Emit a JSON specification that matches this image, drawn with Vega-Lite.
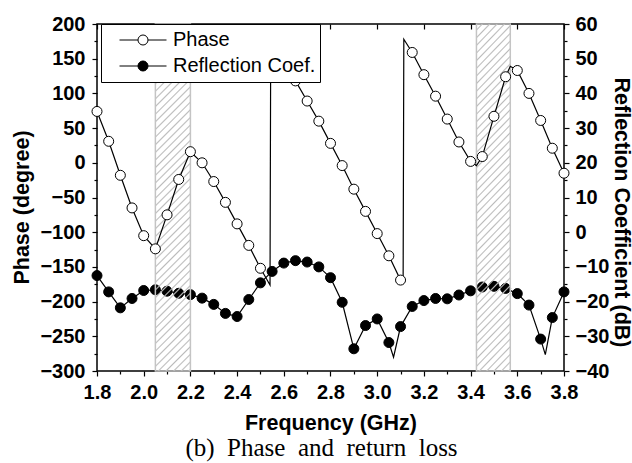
{
  "$schema": "https://vega.github.io/schema/vega-lite/v6.json",
  "width": 467,
  "height": 347,
  "autosize": {"type": "none"},
  "padding": {"left": 97, "top": 24, "right": 68, "bottom": 92},
  "background": "white",
  "title": {"text": "(b)\u00a0 Phase\u00a0 and\u00a0 return\u00a0 loss", "orient": "bottom", "anchor": "middle", "frame": "group", "dx": -9, "font": "Liberation Serif", "fontSize": 25, "fontWeight": "normal", "color": "black", "offset": 2},
  "datasets": {
    "phaseMarks": [
      {"f": 1.80, "v": 74, "series": "Phase"}, {"f": 1.85, "v": 31, "series": "Phase"}, {"f": 1.90, "v": -18, "series": "Phase"},
      {"f": 1.95, "v": -65, "series": "Phase"}, {"f": 2.00, "v": -105, "series": "Phase"}, {"f": 2.05, "v": -124, "series": "Phase"},
      {"f": 2.10, "v": -75, "series": "Phase"}, {"f": 2.15, "v": -24, "series": "Phase"}, {"f": 2.20, "v": 16, "series": "Phase"},
      {"f": 2.25, "v": 0, "series": "Phase"}, {"f": 2.30, "v": -27, "series": "Phase"}, {"f": 2.35, "v": -57, "series": "Phase"},
      {"f": 2.40, "v": -88, "series": "Phase"}, {"f": 2.45, "v": -119, "series": "Phase"}, {"f": 2.50, "v": -152, "series": "Phase"},
      {"f": 2.55, "v": 176, "series": "Phase"}, {"f": 2.60, "v": 147, "series": "Phase"}, {"f": 2.65, "v": 118, "series": "Phase"},
      {"f": 2.70, "v": 89, "series": "Phase"}, {"f": 2.75, "v": 60, "series": "Phase"}, {"f": 2.80, "v": 28, "series": "Phase"},
      {"f": 2.85, "v": -4, "series": "Phase"}, {"f": 2.90, "v": -38, "series": "Phase"}, {"f": 2.95, "v": -70, "series": "Phase"},
      {"f": 3.00, "v": -102, "series": "Phase"}, {"f": 3.05, "v": -134, "series": "Phase"}, {"f": 3.10, "v": -169, "series": "Phase"},
      {"f": 3.15, "v": 159, "series": "Phase"}, {"f": 3.20, "v": 127, "series": "Phase"}, {"f": 3.25, "v": 96, "series": "Phase"},
      {"f": 3.30, "v": 63, "series": "Phase"}, {"f": 3.35, "v": 30, "series": "Phase"}, {"f": 3.40, "v": 2, "series": "Phase"},
      {"f": 3.45, "v": 9, "series": "Phase"}, {"f": 3.50, "v": 67, "series": "Phase"}, {"f": 3.55, "v": 124, "series": "Phase"},
      {"f": 3.60, "v": 133, "series": "Phase"}, {"f": 3.65, "v": 100, "series": "Phase"}, {"f": 3.70, "v": 61, "series": "Phase"},
      {"f": 3.75, "v": 21, "series": "Phase"}, {"f": 3.80, "v": -15, "series": "Phase"}
    ],
    "phaseLine": [
      {"f": 1.80, "v": 74}, {"f": 1.85, "v": 31}, {"f": 1.90, "v": -18}, {"f": 1.95, "v": -65}, {"f": 2.00, "v": -105},
      {"f": 2.05, "v": -124}, {"f": 2.10, "v": -75}, {"f": 2.15, "v": -24}, {"f": 2.20, "v": 16}, {"f": 2.25, "v": 0},
      {"f": 2.30, "v": -27}, {"f": 2.35, "v": -57}, {"f": 2.40, "v": -88}, {"f": 2.45, "v": -119}, {"f": 2.50, "v": -152},
      {"f": 2.541, "v": -176}, {"f": 2.544, "v": 180}, {"f": 2.55, "v": 176}, {"f": 2.60, "v": 147}, {"f": 2.65, "v": 118},
      {"f": 2.70, "v": 89}, {"f": 2.75, "v": 60}, {"f": 2.80, "v": 28}, {"f": 2.85, "v": -4}, {"f": 2.90, "v": -38},
      {"f": 2.95, "v": -70}, {"f": 3.00, "v": -102}, {"f": 3.05, "v": -134}, {"f": 3.10, "v": -169}, {"f": 3.111, "v": -173},
      {"f": 3.114, "v": 178}, {"f": 3.15, "v": 159}, {"f": 3.20, "v": 127}, {"f": 3.25, "v": 96}, {"f": 3.30, "v": 63},
      {"f": 3.35, "v": 30}, {"f": 3.40, "v": 2}, {"f": 3.425, "v": -4}, {"f": 3.45, "v": 9}, {"f": 3.50, "v": 67},
      {"f": 3.55, "v": 124}, {"f": 3.57, "v": 139}, {"f": 3.60, "v": 133}, {"f": 3.65, "v": 100}, {"f": 3.70, "v": 61},
      {"f": 3.75, "v": 21}, {"f": 3.80, "v": -15}
    ],
    "reflMarks": [
      {"f": 1.80, "v": -12.5, "series": "Reflection Coef."}, {"f": 1.85, "v": -17.2, "series": "Reflection Coef."},
      {"f": 1.90, "v": -21.8, "series": "Reflection Coef."}, {"f": 1.95, "v": -19.1, "series": "Reflection Coef."},
      {"f": 2.00, "v": -16.8, "series": "Reflection Coef."}, {"f": 2.05, "v": -16.6, "series": "Reflection Coef."},
      {"f": 2.10, "v": -17.0, "series": "Reflection Coef."}, {"f": 2.15, "v": -17.6, "series": "Reflection Coef."},
      {"f": 2.20, "v": -18.0, "series": "Reflection Coef."}, {"f": 2.25, "v": -19.0, "series": "Reflection Coef."},
      {"f": 2.30, "v": -20.8, "series": "Reflection Coef."}, {"f": 2.35, "v": -23.4, "series": "Reflection Coef."},
      {"f": 2.40, "v": -24.3, "series": "Reflection Coef."}, {"f": 2.45, "v": -19.4, "series": "Reflection Coef."},
      {"f": 2.50, "v": -14.6, "series": "Reflection Coef."}, {"f": 2.55, "v": -11.3, "series": "Reflection Coef."},
      {"f": 2.60, "v": -8.9, "series": "Reflection Coef."}, {"f": 2.65, "v": -8.2, "series": "Reflection Coef."},
      {"f": 2.70, "v": -8.6, "series": "Reflection Coef."}, {"f": 2.75, "v": -10.0, "series": "Reflection Coef."},
      {"f": 2.80, "v": -13.1, "series": "Reflection Coef."}, {"f": 2.85, "v": -20.2, "series": "Reflection Coef."},
      {"f": 2.90, "v": -33.6, "series": "Reflection Coef."}, {"f": 2.95, "v": -26.9, "series": "Reflection Coef."},
      {"f": 3.00, "v": -25.0, "series": "Reflection Coef."}, {"f": 3.05, "v": -31.8, "series": "Reflection Coef."},
      {"f": 3.10, "v": -27.2, "series": "Reflection Coef."}, {"f": 3.15, "v": -21.4, "series": "Reflection Coef."},
      {"f": 3.20, "v": -19.7, "series": "Reflection Coef."}, {"f": 3.25, "v": -19.1, "series": "Reflection Coef."},
      {"f": 3.30, "v": -19.2, "series": "Reflection Coef."}, {"f": 3.35, "v": -18.1, "series": "Reflection Coef."},
      {"f": 3.40, "v": -16.9, "series": "Reflection Coef."}, {"f": 3.45, "v": -15.8, "series": "Reflection Coef."},
      {"f": 3.50, "v": -15.6, "series": "Reflection Coef."}, {"f": 3.55, "v": -16.2, "series": "Reflection Coef."},
      {"f": 3.60, "v": -17.7, "series": "Reflection Coef."}, {"f": 3.65, "v": -21.0, "series": "Reflection Coef."},
      {"f": 3.70, "v": -30.8, "series": "Reflection Coef."}, {"f": 3.75, "v": -24.6, "series": "Reflection Coef."},
      {"f": 3.80, "v": -17.2, "series": "Reflection Coef."}
    ],
    "reflLine": [
      {"f": 1.80, "v": -12.5}, {"f": 1.85, "v": -17.2}, {"f": 1.90, "v": -21.8}, {"f": 1.95, "v": -19.1}, {"f": 2.00, "v": -16.8},
      {"f": 2.05, "v": -16.6}, {"f": 2.10, "v": -17.0}, {"f": 2.15, "v": -17.6}, {"f": 2.20, "v": -18.0}, {"f": 2.25, "v": -19.0},
      {"f": 2.30, "v": -20.8}, {"f": 2.35, "v": -23.4}, {"f": 2.40, "v": -24.3}, {"f": 2.45, "v": -19.4}, {"f": 2.50, "v": -14.6},
      {"f": 2.55, "v": -11.3}, {"f": 2.60, "v": -8.9}, {"f": 2.65, "v": -8.2}, {"f": 2.70, "v": -8.6}, {"f": 2.75, "v": -10.0},
      {"f": 2.80, "v": -13.1}, {"f": 2.85, "v": -20.2}, {"f": 2.90, "v": -33.6}, {"f": 2.95, "v": -26.9}, {"f": 3.00, "v": -25.0},
      {"f": 3.05, "v": -31.8}, {"f": 3.07, "v": -36.0}, {"f": 3.10, "v": -27.2}, {"f": 3.15, "v": -21.4}, {"f": 3.20, "v": -19.7},
      {"f": 3.25, "v": -19.1}, {"f": 3.30, "v": -19.2}, {"f": 3.35, "v": -18.1}, {"f": 3.40, "v": -16.9}, {"f": 3.45, "v": -15.8},
      {"f": 3.50, "v": -15.6}, {"f": 3.55, "v": -16.2}, {"f": 3.60, "v": -17.7}, {"f": 3.65, "v": -21.0}, {"f": 3.70, "v": -30.8},
      {"f": 3.72, "v": -35.3}, {"f": 3.75, "v": -24.6}, {"f": 3.80, "v": -17.2}
    ],
    "bands": [
      {"start": 2.05, "end": 2.2},
      {"start": 3.425, "end": 3.57}
    ]
  },
  "layer": [
    {
      "data": {"name": "reflLine"},
      "mark": {"type": "line", "color": "black", "strokeWidth": 1.2},
      "encoding": {
        "x": {"field": "f", "type": "quantitative", "scale": {"domain": [1.8, 3.8], "nice": false, "zero": false},
          "axis": {"orient": "bottom", "values": [1.8, 2.0, 2.2, 2.4, 2.6, 2.8, 3.0, 3.2, 3.4, 3.6, 3.8], "format": ".1f", "title": "Frequency (GHz)", "labelPadding": 6, "titlePadding": 10, "labelFontWeight": "bold"}},
        "y": {"field": "v", "type": "quantitative", "scale": {"domain": [-40, 60], "nice": false, "zero": false},
          "axis": {"orient": "right", "values": [-40, -30, -20, -10, 0, 10, 20, 30, 40, 50, 60], "title": "Reflection Coefficient (dB)", "titleFontSize": 21.5, "labelPadding": 6, "titleX": 45, "titleY": 188, "titleBaseline": "bottom", "labelFontWeight": "bold"}}
      }
    },
    {
      "data": {"name": "reflMarks"},
      "mark": {"type": "point", "filled": true, "stroke": "black", "strokeWidth": 1, "size": 100, "opacity": 1},
      "encoding": {
        "x": {"field": "f", "type": "quantitative", "scale": {"domain": [1.8, 3.8], "nice": false, "zero": false},
          "axis": {"orient": "bottom", "values": [1.9, 2.1, 2.3, 2.5, 2.7, 2.9, 3.1, 3.3, 3.5, 3.7], "labels": false, "tickSize": 3, "title": null}},
        "y": {"field": "v", "type": "quantitative", "scale": {"domain": [-40, 60], "nice": false, "zero": false},
          "axis": {"orient": "right", "values": [-35, -25, -15, -5, 5, 15, 25, 35, 45, 55], "labels": false, "tickSize": 3, "title": null}},
        "fill": {"field": "series", "type": "nominal",
          "scale": {"domain": ["Phase", "Reflection Coef."], "range": ["white", "black"]},
          "legend": {"orient": "none", "legendX": 4, "legendY": 0, "title": null, "direction": "vertical",
            "symbolType": "M-1,0H-0.213M0.213,0H1M0.213,0A0.213,0.213,0,1,1,-0.213,0A0.213,0.213,0,1,1,0.213,0Z",
            "symbolSize": 2209, "symbolStrokeColor": "black", "symbolStrokeWidth": 1, "symbolOpacity": 1,
            "clipHeight": 24, "rowPadding": 2, "padding": 4, "symbolOffset": 14, "labelOffset": 6,
            "labelFont": "Liberation Sans", "labelFontSize": 20, "labelColor": "black", "labelLimit": 400,
            "strokeColor": "black", "fillColor": "white"}}
      }
    },
    {
      "data": {"name": "bands"},
      "mark": {"type": "rect", "stroke": "#c4c4c4", "strokeWidth": 1.5,
        "fill": {"gradient": "linear", "x1": 0, "y1": 0, "x2": 0.11, "y2": 1.09, "stops": [
          {"offset": 0, "color": "#bbb0"}, {"offset": 0.012, "color": "#bbb0"}, {"offset": 0.016, "color": "#bbb"},
          {"offset": 0.02, "color": "#bbb0"}, {"offset": 0.032, "color": "#bbb0"}, {"offset": 0.036, "color": "#bbb"},
          {"offset": 0.04, "color": "#bbb0"}, {"offset": 0.052, "color": "#bbb0"}, {"offset": 0.056, "color": "#bbb"},
          {"offset": 0.06, "color": "#bbb0"}, {"offset": 0.072, "color": "#bbb0"}, {"offset": 0.076, "color": "#bbb"},
          {"offset": 0.08, "color": "#bbb0"}, {"offset": 0.092, "color": "#bbb0"}, {"offset": 0.096, "color": "#bbb"},
          {"offset": 0.1, "color": "#bbb0"}, {"offset": 0.112, "color": "#bbb0"}, {"offset": 0.116, "color": "#bbb"},
          {"offset": 0.12, "color": "#bbb0"}, {"offset": 0.132, "color": "#bbb0"}, {"offset": 0.136, "color": "#bbb"},
          {"offset": 0.14, "color": "#bbb0"}, {"offset": 0.152, "color": "#bbb0"}, {"offset": 0.156, "color": "#bbb"},
          {"offset": 0.16, "color": "#bbb0"}, {"offset": 0.172, "color": "#bbb0"}, {"offset": 0.176, "color": "#bbb"},
          {"offset": 0.18, "color": "#bbb0"}, {"offset": 0.192, "color": "#bbb0"}, {"offset": 0.196, "color": "#bbb"},
          {"offset": 0.2, "color": "#bbb0"}, {"offset": 0.212, "color": "#bbb0"}, {"offset": 0.216, "color": "#bbb"},
          {"offset": 0.22, "color": "#bbb0"}, {"offset": 0.232, "color": "#bbb0"}, {"offset": 0.236, "color": "#bbb"},
          {"offset": 0.24, "color": "#bbb0"}, {"offset": 0.252, "color": "#bbb0"}, {"offset": 0.256, "color": "#bbb"},
          {"offset": 0.26, "color": "#bbb0"}, {"offset": 0.272, "color": "#bbb0"}, {"offset": 0.276, "color": "#bbb"},
          {"offset": 0.28, "color": "#bbb0"}, {"offset": 0.292, "color": "#bbb0"}, {"offset": 0.296, "color": "#bbb"},
          {"offset": 0.3, "color": "#bbb0"}, {"offset": 0.312, "color": "#bbb0"}, {"offset": 0.316, "color": "#bbb"},
          {"offset": 0.32, "color": "#bbb0"}, {"offset": 0.332, "color": "#bbb0"}, {"offset": 0.336, "color": "#bbb"},
          {"offset": 0.34, "color": "#bbb0"}, {"offset": 0.352, "color": "#bbb0"}, {"offset": 0.356, "color": "#bbb"},
          {"offset": 0.36, "color": "#bbb0"}, {"offset": 0.372, "color": "#bbb0"}, {"offset": 0.376, "color": "#bbb"},
          {"offset": 0.38, "color": "#bbb0"}, {"offset": 0.392, "color": "#bbb0"}, {"offset": 0.396, "color": "#bbb"},
          {"offset": 0.4, "color": "#bbb0"}, {"offset": 0.412, "color": "#bbb0"}, {"offset": 0.416, "color": "#bbb"},
          {"offset": 0.42, "color": "#bbb0"}, {"offset": 0.432, "color": "#bbb0"}, {"offset": 0.436, "color": "#bbb"},
          {"offset": 0.44, "color": "#bbb0"}, {"offset": 0.452, "color": "#bbb0"}, {"offset": 0.456, "color": "#bbb"},
          {"offset": 0.46, "color": "#bbb0"}, {"offset": 0.472, "color": "#bbb0"}, {"offset": 0.476, "color": "#bbb"},
          {"offset": 0.48, "color": "#bbb0"}, {"offset": 0.492, "color": "#bbb0"}, {"offset": 0.496, "color": "#bbb"},
          {"offset": 0.5, "color": "#bbb0"}, {"offset": 0.512, "color": "#bbb0"}, {"offset": 0.516, "color": "#bbb"},
          {"offset": 0.52, "color": "#bbb0"}, {"offset": 0.532, "color": "#bbb0"}, {"offset": 0.536, "color": "#bbb"},
          {"offset": 0.54, "color": "#bbb0"}, {"offset": 0.552, "color": "#bbb0"}, {"offset": 0.556, "color": "#bbb"},
          {"offset": 0.56, "color": "#bbb0"}, {"offset": 0.572, "color": "#bbb0"}, {"offset": 0.576, "color": "#bbb"},
          {"offset": 0.58, "color": "#bbb0"}, {"offset": 0.592, "color": "#bbb0"}, {"offset": 0.596, "color": "#bbb"},
          {"offset": 0.6, "color": "#bbb0"}, {"offset": 0.612, "color": "#bbb0"}, {"offset": 0.616, "color": "#bbb"},
          {"offset": 0.62, "color": "#bbb0"}, {"offset": 0.632, "color": "#bbb0"}, {"offset": 0.636, "color": "#bbb"},
          {"offset": 0.64, "color": "#bbb0"}, {"offset": 0.652, "color": "#bbb0"}, {"offset": 0.656, "color": "#bbb"},
          {"offset": 0.66, "color": "#bbb0"}, {"offset": 0.672, "color": "#bbb0"}, {"offset": 0.676, "color": "#bbb"},
          {"offset": 0.68, "color": "#bbb0"}, {"offset": 0.692, "color": "#bbb0"}, {"offset": 0.696, "color": "#bbb"},
          {"offset": 0.7, "color": "#bbb0"}, {"offset": 0.712, "color": "#bbb0"}, {"offset": 0.716, "color": "#bbb"},
          {"offset": 0.72, "color": "#bbb0"}, {"offset": 0.732, "color": "#bbb0"}, {"offset": 0.736, "color": "#bbb"},
          {"offset": 0.74, "color": "#bbb0"}, {"offset": 0.752, "color": "#bbb0"}, {"offset": 0.756, "color": "#bbb"},
          {"offset": 0.76, "color": "#bbb0"}, {"offset": 0.772, "color": "#bbb0"}, {"offset": 0.776, "color": "#bbb"},
          {"offset": 0.78, "color": "#bbb0"}, {"offset": 0.792, "color": "#bbb0"}, {"offset": 0.796, "color": "#bbb"},
          {"offset": 0.8, "color": "#bbb0"}, {"offset": 0.812, "color": "#bbb0"}, {"offset": 0.816, "color": "#bbb"},
          {"offset": 0.82, "color": "#bbb0"}, {"offset": 0.832, "color": "#bbb0"}, {"offset": 0.836, "color": "#bbb"},
          {"offset": 0.84, "color": "#bbb0"}, {"offset": 0.852, "color": "#bbb0"}, {"offset": 0.856, "color": "#bbb"},
          {"offset": 0.86, "color": "#bbb0"}, {"offset": 0.872, "color": "#bbb0"}, {"offset": 0.876, "color": "#bbb"},
          {"offset": 0.88, "color": "#bbb0"}, {"offset": 0.892, "color": "#bbb0"}, {"offset": 0.896, "color": "#bbb"},
          {"offset": 0.9, "color": "#bbb0"}, {"offset": 0.912, "color": "#bbb0"}, {"offset": 0.916, "color": "#bbb"},
          {"offset": 0.92, "color": "#bbb0"}, {"offset": 0.932, "color": "#bbb0"}, {"offset": 0.936, "color": "#bbb"},
          {"offset": 0.94, "color": "#bbb0"}, {"offset": 0.952, "color": "#bbb0"}, {"offset": 0.956, "color": "#bbb"},
          {"offset": 0.96, "color": "#bbb0"}, {"offset": 0.972, "color": "#bbb0"}, {"offset": 0.976, "color": "#bbb"},
          {"offset": 0.98, "color": "#bbb0"}, {"offset": 0.992, "color": "#bbb0"}, {"offset": 0.996, "color": "#bbb"},
          {"offset": 1, "color": "#bbb0"}
        ]}},
      "encoding": {
        "x": {"field": "start", "type": "quantitative", "scale": {"domain": [1.8, 3.8], "nice": false, "zero": false},
          "axis": {"orient": "top", "values": [1.8, 2.0, 2.2, 2.4, 2.6, 2.8, 3.0, 3.2, 3.4, 3.6, 3.8], "labels": false, "tickSize": -5, "title": null}},
        "x2": {"field": "end"}
      }
    },
    {
      "data": {"name": "phaseLine"},
      "mark": {"type": "line", "color": "black", "strokeWidth": 1.2},
      "encoding": {
        "x": {"field": "f", "type": "quantitative", "scale": {"domain": [1.8, 3.8], "nice": false, "zero": false}, "axis": null},
        "y": {"field": "v", "type": "quantitative", "scale": {"domain": [-300, 200], "nice": false, "zero": false},
          "axis": {"orient": "left", "values": [-300, -250, -200, -150, -100, -50, 0, 50, 100, 150, 200], "title": "Phase (degree)", "labelPadding": 7, "titleX": -64, "titleY": 183, "titleBaseline": "bottom", "labelFontWeight": "bold"}}
      }
    },
    {
      "data": {"name": "phaseMarks"},
      "mark": {"type": "point", "filled": true, "stroke": "black", "strokeWidth": 1, "size": 100, "opacity": 1},
      "encoding": {
        "x": {"field": "f", "type": "quantitative", "scale": {"domain": [1.8, 3.8], "nice": false, "zero": false}, "axis": null},
        "y": {"field": "v", "type": "quantitative", "scale": {"domain": [-300, 200], "nice": false, "zero": false},
          "axis": {"orient": "left", "values": [-275, -225, -175, -125, -75, -25, 25, 75, 125, 175], "labels": false, "tickSize": 3, "title": null}},
        "fill": {"field": "series", "type": "nominal", "scale": {"domain": ["Phase", "Reflection Coef."], "range": ["white", "black"]}}
      }
    }
  ],
  "resolve": {
    "scale": {"x": "independent", "y": "independent"},
    "axis": {"x": "independent", "y": "independent"}
  },
  "config": {
    "view": {"stroke": "black", "strokeWidth": 1.5},
    "axis": {
      "labelFont": "Liberation Sans", "labelFontWeight": "bold", "labelFontSize": 20, "labelColor": "black",
      "titleFont": "Liberation Sans", "titleFontWeight": "bold", "titleFontSize": 21.5, "titleColor": "black",
      "tickColor": "black", "tickWidth": 1.2, "tickSize": 5, "domain": false, "grid": false,
      "labelFlush": false, "labelOverlap": false
    }
  }
}
